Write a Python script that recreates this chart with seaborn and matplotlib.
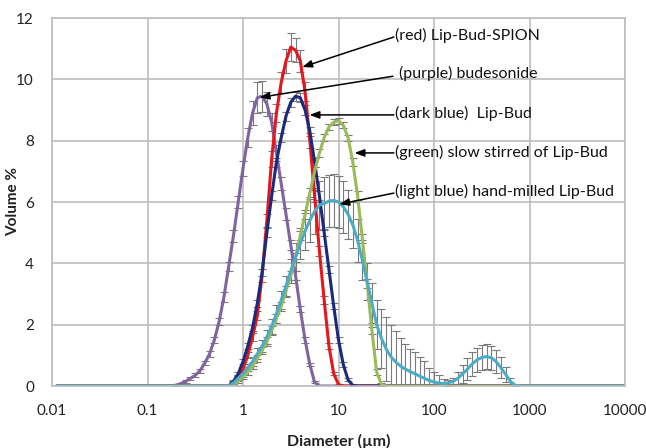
import numpy as np
import pandas as pd
import matplotlib
matplotlib.use("Agg")
import matplotlib.pyplot as plt
import seaborn as sns

# ---------------- data ----------------
# laser-diffraction size classes, 20 per decade (µm)
size_classes = np.logspace(-2, 4, 121)[1:]

series_names = ["(purple) budesonide", "(red) Lip-Bud-SPION", "(dark blue)  Lip-Bud",
                "(green) slow stirred of Lip-Bud", "(light blue) hand-milled Lip-Bud"]
series_colors = ["#8064A2", "#E5161C", "#1B2A7A", "#9BBB59", "#4BACC6"]

# first size class (µm) of each listed run of values; all other classes are 0
purple_first = 0.2
purple_vol = [0.03, 0.08, 0.15, 0.25, 0.35, 0.5, 0.75, 1.05, 1.5, 2.1, 2.9, 3.9, 4.9, 6.0, 7.1,
              8.1, 8.9, 9.4, 9.45, 9.2, 8.6, 7.6, 6.6, 5.6, 4.6, 3.6, 2.5, 1.5, 0.7, 0.12, 0.0]
purple_err = [0.02, 0.03, 0.04, 0.05, 0.06, 0.07, 0.08, 0.1, 0.1, 0.12, 0.15, 0.15, 0.2, 0.2, 0.25,
              0.3, 0.4, 0.5, 0.5, 0.4, 0.3, 0.25, 0.2, 0.2, 0.15, 0.15, 0.1, 0.1, 0.05, 0.03, 0.0]

red_first = 0.708
red_vol = [0.0, 0.1, 0.3, 0.55, 1.0, 1.6, 2.3, 3.6, 5.4, 7.4, 8.9, 9.9, 10.6, 11.05, 10.95,
           10.6, 9.6, 8.0, 6.2, 4.4, 2.8, 1.3, 0.4, 0.05, 0.0]
red_err = [0.0, 0.05, 0.05, 0.08, 0.1, 0.12, 0.15, 0.2, 0.2, 0.25, 0.3, 0.35, 0.4, 0.45, 0.4,
           0.35, 0.3, 0.25, 0.2, 0.15, 0.12, 0.1, 0.05, 0.02, 0.0]

navy_first = 0.708
navy_vol = [0.0, 0.15, 0.4, 0.8, 1.3, 1.9, 2.7, 3.7, 5.0, 6.2, 7.3, 8.1, 8.8, 9.25, 9.45, 9.4,
            9.0, 8.3, 7.3, 6.2, 5.0, 3.8, 2.6, 1.5, 0.7, 0.2, 0.02, 0.0]
navy_err = [0.0, 0.03, 0.05, 0.08, 0.1, 0.1, 0.12, 0.12, 0.15, 0.15, 0.15, 0.15, 0.15, 0.15, 0.15,
            0.15, 0.15, 0.15, 0.15, 0.15, 0.12, 0.12, 0.1, 0.1, 0.08, 0.05, 0.02, 0.0]

green_first = 0.708
green_vol = [0.0, 0.05, 0.15, 0.3, 0.45, 0.65, 0.9, 1.15, 1.45, 1.8, 2.2, 2.6, 3.1, 3.6, 4.2, 4.9,
             5.6, 6.3, 7.0, 7.6, 8.1, 8.45, 8.6, 8.65, 8.5, 8.1, 7.3, 6.2, 4.8, 3.35, 1.8, 0.45,
             0.05, 0.0]
green_err = [0.0, 0.03, 0.05, 0.08, 0.1, 0.1, 0.12, 0.12, 0.15, 0.15, 0.15, 0.15, 0.15, 0.15, 0.15,
             0.15, 0.15, 0.15, 0.15, 0.12, 0.12, 0.1, 0.1, 0.1, 0.1, 0.1, 0.12, 0.15, 0.15, 0.15,
             0.12, 0.1, 0.05, 0.0]

cyan_first = 0.708
cyan_vol = [0.0, 0.1, 0.25, 0.4, 0.6, 0.8, 1.05, 1.3, 1.6, 1.95, 2.35, 2.8, 3.25, 3.75, 4.2, 4.65,
            5.05, 5.4, 5.7, 5.9, 5.95, 6.03, 6.05, 6.0, 5.85, 5.6, 5.25, 4.75, 4.1, 3.4, 2.7, 2.0,
            1.55, 1.2, 0.95, 0.78, 0.65, 0.55, 0.47, 0.4, 0.32, 0.25, 0.18, 0.13, 0.1, 0.08, 0.1,
            0.15, 0.25, 0.4, 0.55, 0.72, 0.85, 0.93, 0.96, 0.92, 0.8, 0.6, 0.38, 0.15, 0.02, 0.0]
cyan_err = [0.0, 0.05, 0.08, 0.1, 0.12, 0.15, 0.18, 0.2, 0.22, 0.25, 0.3, 0.3, 0.35, 0.4, 0.45,
            0.5, 0.6, 0.7, 0.75, 0.8, 0.85, 0.85, 0.85, 0.85, 0.85, 0.8, 0.75, 0.7, 0.65, 0.6,
            0.65, 0.8, 0.95, 1.04, 1.05, 1.0, 0.9, 0.83, 0.75, 0.7, 0.63, 0.55, 0.42, 0.32, 0.25,
            0.14, 0.1, 0.12, 0.2, 0.3, 0.35, 0.38, 0.4, 0.4, 0.4, 0.4, 0.38, 0.35, 0.25, 0.1,
            0.02, 0.0]

x_ticks = [0.01, 0.1, 1, 10, 100, 1000, 10000]
x_tick_labels = ["0.01", "0.1", "1", "10", "100", "1000", "10000"]
y_ticks = [0, 2, 4, 6, 8, 10, 12]

# annotation anchors: (label text position, arrow tail, arrow tip) in data units
ann_text = [(43.5, 10.2), (39.2, 11.44), (39.2, 8.89), (39.2, 7.62), (39.2, 6.34)]
ann_tail = [(37.1, 10.1), (38.0, 11.38), (38.0, 8.84), (38.0, 7.60), (38.0, 6.29)]
ann_tip = [(1.49, 9.41), (4.17, 10.4), (4.97, 8.84), (14.7, 7.60), (10.2, 5.93)]


def spread(first, values):
    out = np.zeros(len(size_classes))
    i0 = int(np.argmin(np.abs(np.log10(size_classes) - np.log10(first))))
    out[i0:i0 + len(values)] = values
    return out


firsts = [purple_first, red_first, navy_first, green_first, cyan_first]
vols = [purple_vol, red_vol, navy_vol, green_vol, cyan_vol]
errs = [purple_err, red_err, navy_err, green_err, cyan_err]

frames = []
err_full = []
for name, f, v, e in zip(series_names, firsts, vols, errs):
    frames.append(pd.DataFrame({"Diameter": size_classes, "Volume": spread(f, v), "series": name}))
    err_full.append(spread(f, e))
df = pd.concat(frames, ignore_index=True)

# ---------------- plot ----------------
sns.set_style("white")
plt.rcParams["font.family"] = ["Lato", "DejaVu Sans"]

fig = plt.figure(figsize=(6.46, 4.48), dpi=100)
ax = fig.add_axes([52 / 646, 62 / 448, 573 / 646, 368 / 448])
ax.set_xscale("log")

grid_c = "#BEBEBE"
for i, (name, col) in enumerate(zip(series_names, series_colors)):
    sub = df[df["series"] == name]
    e = err_full[i]
    m = e > 0
    ax.errorbar(sub["Diameter"].values[m], sub["Volume"].values[m], yerr=e[m], fmt="none",
                ecolor="#7A7A7A", elinewidth=0.8, capsize=2.6, capthick=0.8, zorder=1.5 + i * 0.01)

sns.lineplot(data=df, x="Diameter", y="Volume", hue="series", hue_order=series_names,
             palette=series_colors, linewidth=2.2, legend=False, estimator=None, sort=False,
             ax=ax, zorder=2)

ax.set_xlim(0.01, 10000)
ax.set_ylim(0, 12)
ax.set_xticks(x_ticks)
ax.set_xticklabels(x_tick_labels)
ax.xaxis.set_minor_locator(matplotlib.ticker.NullLocator())
ax.set_yticks(y_ticks)
ax.tick_params(axis="both", length=0, labelsize=11, colors="#222222")
ax.tick_params(axis="x", pad=13)
ax.tick_params(axis="y", pad=13)
ax.grid(True, color=grid_c, linewidth=1.2)
ax.set_axisbelow(True)
for s in ax.spines.values():
    s.set_color(grid_c)
    s.set_linewidth(1.2)

ax.set_xlabel("Diameter (µm)", fontsize=11.5, fontweight="bold", color="#222222")
ax.set_ylabel("Volume %", fontsize=11, fontweight="bold", color="#222222")
ax.xaxis.set_label_coords(0.5, -0.13)
ax.yaxis.set_label_coords(-0.055, 0.5)

for name, t, a, b in zip(series_names, ann_text, ann_tail, ann_tip):
    ax.annotate("", xy=b, xytext=a,
                arrowprops=dict(arrowstyle="-|>,head_length=0.45,head_width=0.17",
                                color="black", lw=1.1, mutation_scale=13, shrinkA=0, shrinkB=0),
                zorder=5)
    ax.text(t[0], t[1], name, ha="left", va="center", fontsize=11.5, color="#111111", zorder=5)

fig.savefig("out.png", dpi=100)
